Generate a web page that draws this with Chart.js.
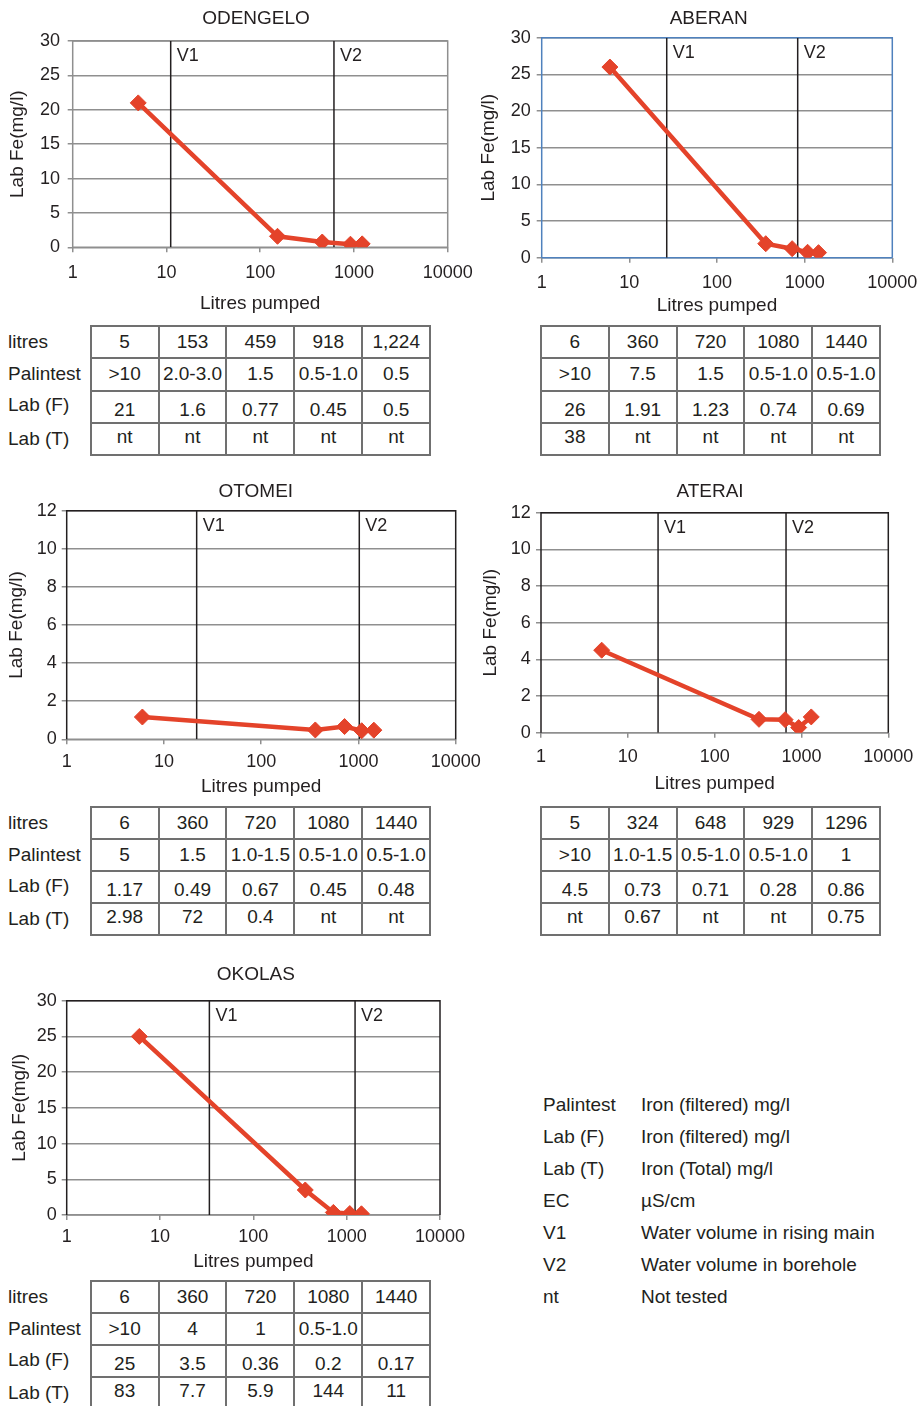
<!DOCTYPE html>
<html>
<head>
<meta charset="utf-8">
<script src="https://cdn.jsdelivr.net/npm/chart.js@4.4.1/dist/chart.umd.min.js"></script>
<style>
  html, body { margin: 0; padding: 0; overflow: hidden; background: #fff; }
  body { width: 922px; height: 1406px; position: relative; font-family: "Liberation Sans", Arial, sans-serif; color: #231f20; }
  canvas { position: absolute; }
  .grid { position: absolute; display: grid; border-left: 2px solid #707070; border-top: 2px solid #707070; font-size: 19px; }
  .grid div { box-sizing: border-box; border-right: 2px solid #707070; border-bottom: 2px solid #707070; display: flex; align-items: center; justify-content: center; white-space: nowrap; }
  .rowlabel { position: absolute; font-size: 19px; line-height: 24px; white-space: nowrap; }
  .legend { position: absolute; left: 543px; font-size: 19px; white-space: nowrap; }
  .legend span { position: absolute; }
</style>
</head>
<body>
<script>
// ---- data ----
const xTickValues = [1, 10, 100, 1000, 10000];
const rowLabels = ['litres', 'Palintest', 'Lab (F)', 'Lab (T)'];

const odengeloLitres = [5, 153, 459, 918, 1224];
const odengeloPalintest = ['>10', '2.0-3.0', '1.5', '0.5-1.0', '0.5'];
const odengeloLabF = [21, 1.6, 0.77, 0.45, 0.5];
const odengeloLabT = ['nt', 'nt', 'nt', 'nt', 'nt'];
const odengeloVolumes = [11.1, 612]; // V1, V2 (litres)

const aberanLitres = [6, 360, 720, 1080, 1440];
const aberanPalintest = ['>10', '7.5', '1.5', '0.5-1.0', '0.5-1.0'];
const aberanLabF = [26, 1.91, 1.23, 0.74, 0.69];
const aberanLabT = ['38', 'nt', 'nt', 'nt', 'nt'];
const aberanVolumes = [26.7, 833];

const otomeiLitres = [6, 360, 720, 1080, 1440];
const otomeiPalintest = ['5', '1.5', '1.0-1.5', '0.5-1.0', '0.5-1.0'];
const otomeiLabF = [1.17, 0.49, 0.67, 0.45, 0.48];
const otomeiLabT = ['2.98', '72', '0.4', 'nt', 'nt'];
const otomeiVolumes = [21.7, 1020];

const ateraiLitres = [5, 324, 648, 929, 1296];
const ateraiPalintest = ['>10', '1.0-1.5', '0.5-1.0', '0.5-1.0', '1'];
const ateraiLabF = [4.5, 0.73, 0.71, 0.28, 0.86];
const ateraiLabT = ['nt', '0.67', 'nt', 'nt', '0.75'];
const ateraiVolumes = [22.3, 664];

const okolasLitres = [6, 360, 720, 1080, 1440];
const okolasPalintest = ['>10', '4', '1', '0.5-1.0', ''];
const okolasLabF = [25, 3.5, 0.36, 0.2, 0.17];
const okolasLabT = ['83', '7.7', '5.9', '144', '11'];
const okolasVolumes = [33.8, 1230];

const legendKeys = ['Palintest', 'Lab (F)', 'Lab (T)', 'EC', 'V1', 'V2', 'nt'];
const legendMeanings = ['Iron (filtered) mg/l', 'Iron (filtered) mg/l', 'Iron (Total) mg/l', 'µS/cm',
  'Water volume in rising main', 'Water volume in borehole', 'Not tested'];

// ---- styles ----
const ink = '#231f20';
const red = '#e4432a';
const gridGrey = '#8f8f8f';
const blue = '#4f81bd';
const family = '"Liberation Sans", Arial, sans-serif';
Chart.defaults.font.family = family;
Chart.defaults.color = ink;

const sites = [
  { name: 'ODENGELO', litres: odengeloLitres, palintest: odengeloPalintest, labF: odengeloLabF, labT: odengeloLabT, volumes: odengeloVolumes, yMax: 30, yStep: 5, comma: true },
  { name: 'ABERAN', litres: aberanLitres, palintest: aberanPalintest, labF: aberanLabF, labT: aberanLabT, volumes: aberanVolumes, yMax: 30, yStep: 5 },
  { name: 'OTOMEI', litres: otomeiLitres, palintest: otomeiPalintest, labF: otomeiLabF, labT: otomeiLabT, volumes: otomeiVolumes, yMax: 12, yStep: 2 },
  { name: 'ATERAI', litres: ateraiLitres, palintest: ateraiPalintest, labF: ateraiLabF, labT: ateraiLabT, volumes: ateraiVolumes, yMax: 12, yStep: 2 },
  { name: 'OKOLAS', litres: okolasLitres, palintest: okolasPalintest, labF: okolasLabF, labT: okolasLabT, volumes: okolasVolumes, yMax: 30, yStep: 5 }
];

// page geometry: plot = [left, right, top, bottom]
const layouts = [
  { plot: [72.7, 447.7, 41, 247.3], titleX: 256, titleY: 18.7, yTitleX: 18, xTitleY: 304.2, xTickY: 272.7, yGap: 12.7, frame: gridGrey, base: gridGrey,
    table: { x: 90.7, y: 326, col: 67.9, row: 32.25, labels: true } },
  { plot: [541.7, 892.3, 37.7, 257.7], titleX: 708.7, titleY: 18.7, yTitleX: 488.7, xTitleY: 306, xTickY: 283.3, yGap: 11, frame: blue, base: blue,
    table: { x: 541, y: 326, col: 67.8, row: 32.25, labels: false } },
  { plot: [66.7, 455.7, 510.7, 739.3], titleX: 255.8, titleY: 491.7, yTitleX: 16.7, xTitleY: 786.3, xTickY: 761.7, yGap: 10, frame: ink, base: gridGrey,
    table: { x: 90.7, y: 807.3, col: 67.9, row: 31.9, labels: true } },
  { plot: [541, 888.3, 512.7, 732.7], titleX: 710, titleY: 491.7, yTitleX: 490.7, xTitleY: 783.7, xTickY: 756.7, yGap: 10.3, frame: ink, base: gridGrey,
    table: { x: 541, y: 807.3, col: 67.8, row: 31.9, labels: false } },
  { plot: [66.7, 440, 1000.7, 1215], titleX: 255.8, titleY: 974.3, yTitleX: 19.7, xTitleY: 1262.2, xTickY: 1236.7, yGap: 10, frame: ink, base: gridGrey,
    table: { x: 90.7, y: 1281, col: 67.9, row: 32.1, labels: true } }
];

// ---- plugins ----
const framePlugin = {
  id: 'frame',
  beforeDatasetsDraw(chart, args, opts) {
    const { ctx, chartArea: a } = chart;
    ctx.save();
    ctx.lineWidth = 1.5;
    ctx.strokeStyle = opts.base;
    ctx.beginPath();
    ctx.moveTo(a.left, a.bottom);
    ctx.lineTo(a.right, a.bottom);
    ctx.stroke();
    ctx.strokeStyle = opts.color;
    ctx.beginPath();
    ctx.moveTo(a.left, a.bottom);
    ctx.lineTo(a.left, a.top);
    ctx.lineTo(a.right, a.top);
    ctx.lineTo(a.right, a.bottom);
    ctx.stroke();
    ctx.restore();
  }
};

const volumeLabels = {
  id: 'volumeLabels',
  afterDatasetsDraw(chart, args, opts) {
    const { ctx, chartArea, scales } = chart;
    ctx.save();
    ctx.font = '18px ' + family;
    ctx.fillStyle = ink;
    ctx.textBaseline = 'middle';
    opts.values.forEach((v, i) => {
      ctx.fillText('V' + (i + 1), scales.x.getPixelForValue(v) + 6, chartArea.top + 15);
    });
    ctx.restore();
  }
};

const titleShift = {
  id: 'titleShift',
  afterLayout(chart, args, opts) {
    const t = chart.titleBlock;
    if (t) { t.left += opts.dx; t.right += opts.dx; }
  }
};

// ---- charts ----
const half = 11.4; // half line height of the 19px titles

sites.forEach((s, k) => {
  const g = layouts[k];
  const [pl, pr, pt, pb] = g.plot;
  const left = Math.floor(g.yTitleX - half);
  const top = Math.floor(g.titleY - half);
  const width = Math.ceil(pr - left + 40);
  const height = Math.ceil(g.xTitleY + half - top);
  const yw = pl - left;
  const padR = width - (pr - left);
  const xh = height - (pb - top);
  const titleTop = g.titleY - top - half;
  const titleBottom = pt - top - 2 * half - titleTop;

  const canvas = document.createElement('canvas');
  canvas.width = width;
  canvas.height = height;
  canvas.style.left = left + 'px';
  canvas.style.top = top + 'px';
  document.body.appendChild(canvas);

  const series = {
    data: s.litres.map((x, i) => ({ x: x, y: s.labF[i] })),
    showLine: true,
    borderColor: red,
    backgroundColor: red,
    borderWidth: 4.5,
    pointStyle: 'rectRot',
    pointRadius: 8,
    pointBorderWidth: 1,
    pointBackgroundColor: red,
    pointBorderColor: red,
    order: 0
  };
  const vLines = s.volumes.map(v => ({
    data: [{ x: v, y: 0 }, { x: v, y: s.yMax }],
    showLine: true,
    borderColor: ink,
    borderWidth: 1.5,
    pointRadius: 0,
    order: 1
  }));

  new Chart(canvas, {
    type: 'scatter',
    data: { datasets: [series].concat(vLines) },
    options: {
      responsive: false,
      animation: false,
      events: [],
      layout: { padding: { left: 0, top: 0, right: padR, bottom: 0 } },
      plugins: {
        legend: { display: false },
        tooltip: { enabled: false },
        title: {
          display: true, text: s.name, fullSize: false, color: ink,
          font: { size: 19, weight: 'normal', lineHeight: 1.2 },
          padding: { top: titleTop, bottom: titleBottom }
        },
        frame: { color: g.frame, base: g.base },
        volumeLabels: { values: s.volumes },
        titleShift: { dx: g.titleX - (pl + pr) / 2 }
      },
      scales: {
        x: {
          type: 'logarithmic',
          min: 1,
          max: 10000,
          afterBuildTicks: sc => { sc.ticks = xTickValues.map(v => ({ value: v })); },
          afterFit: sc => { sc.height = xh; sc.paddingLeft = 0; sc.paddingRight = 0; },
          ticks: {
            autoSkip: false, maxRotation: 0, color: ink,
            font: { size: 18, lineHeight: 1.2 },
            padding: g.xTickY - pb - 5 - 10.8,
            callback: v => String(v)
          },
          grid: { drawOnChartArea: false, drawTicks: true, tickLength: 5, color: gridGrey, lineWidth: 1.5 },
          border: { display: false },
          title: {
            display: true, text: 'Litres pumped', color: ink,
            font: { size: 19, lineHeight: 1.2 },
            padding: { top: 0, bottom: height - (g.xTitleY - top) - half }
          }
        },
        y: {
          min: 0,
          max: s.yMax,
          afterFit: sc => { sc.width = yw; sc.paddingTop = 0; sc.paddingBottom = 0; },
          ticks: { stepSize: s.yStep, color: ink, font: { size: 18, lineHeight: 1.2 }, padding: g.yGap - 5 },
          grid: { color: gridGrey, lineWidth: 1.5, tickLength: 5 },
          border: { display: false },
          title: {
            display: true, text: 'Lab Fe(mg/l)', color: ink,
            font: { size: 19, lineHeight: 1.2 },
            padding: { top: g.yTitleX - left - half, bottom: 0 }
          }
        }
      }
    },
    plugins: [framePlugin, volumeLabels, titleShift]
  });

  // table under the chart
  const t = g.table;
  const box = document.createElement('div');
  box.className = 'grid';
  box.style.left = (t.x - 1) + 'px';
  box.style.top = (t.y - 1) + 'px';
  box.style.gridTemplateColumns = `repeat(5, ${t.col}px)`;
  box.style.gridTemplateRows = `repeat(4, ${t.row}px)`;
  const litresText = s.litres.map(v => s.comma ? v.toLocaleString('en-US') : String(v));
  const rows = [litresText, s.palintest, s.labF.map(String), s.labT];
  rows.forEach((r, ri) => {
    r.forEach(txt => {
      const c = document.createElement('div');
      c.textContent = txt;
      if (ri === 2) c.style.paddingTop = '6px';
      if (ri === 3) c.style.paddingBottom = '4px';
      box.appendChild(c);
    });
  });
  document.body.appendChild(box);

  if (t.labels) {
    rowLabels.forEach((lab, ri) => {
      const d = document.createElement('div');
      d.className = 'rowlabel';
      d.textContent = lab;
      d.style.left = '8px';
      d.style.top = (t.y + ri * t.row + t.row / 2 - 12 - (ri === 2 ? 1.5 : 0)) + 'px';
      document.body.appendChild(d);
    });
  }
});

// ---- key ----
const key = document.createElement('div');
key.className = 'legend';
key.style.top = '1089px';
legendKeys.forEach((k, i) => {
  const a = document.createElement('span');
  a.textContent = k;
  a.style.left = '0px';
  a.style.top = (i * 31.95) + 'px';
  a.style.lineHeight = '32px';
  const b = document.createElement('span');
  b.textContent = legendMeanings[i];
  b.style.left = '98px';
  b.style.top = (i * 31.95) + 'px';
  b.style.lineHeight = '32px';
  key.appendChild(a);
  key.appendChild(b);
});
document.body.appendChild(key);
</script>
</body>
</html>
